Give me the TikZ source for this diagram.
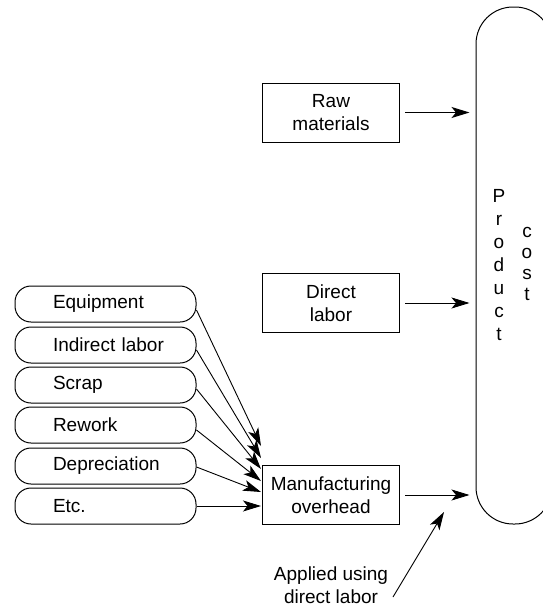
\documentclass[tikz,border=0pt]{standalone}
\usepackage{fontspec}
\setmainfont{Liberation Sans}
\usetikzlibrary{arrows.meta}
\begin{document}
\begin{tikzpicture}[x=1pt,y=-1pt,
  every node/.style={font=\fontsize{19}{22.5}\selectfont},
  box/.style={draw,line width=1pt,minimum width=137pt,minimum height=59pt,align=center,inner sep=0pt},
  pill/.style={draw,line width=1pt,rounded corners=16pt,minimum height=36pt,text width=105pt,inner xsep=38pt,inner ysep=0pt,align=left},
  flow/.style={line width=0.9pt,-{Stealth[length=18pt,width=11pt,inset=4.5pt]}},
]
\useasboundingbox (0,0) rectangle (543,608);

% cost components
\node[box] (raw) at (331,112.5) {Raw\\materials};
\node[box] (dl)  at (331,303)   {Direct\\labor};
\node[box] (moh) at (331,495)   {Manufacturing\\overhead};

% product cost capsule (its right side runs past the page edge)
\node[draw,line width=1pt,rounded corners=37pt,minimum width=76pt,minimum height=517pt,inner sep=0pt] (cap) at (514,265.5) {};
\node[font=\fontsize{19}{23}\selectfont,align=center,inner sep=0pt] (prod) at (499,265.5) {P\\r\\o\\d\\u\\c\\t};
\node[font=\fontsize{19}{21}\selectfont,align=center,inner sep=0pt] (cost) at (527,263.5) {c\\o\\s\\t};

% overhead items
\node[pill] (p1) at (105.5,304) {Equipment};
\node[pill] (p2) at (105.5,345) {\mbox{Indirect labor}};
\node[pill] (p3) at (105.5,385) {Scrap};
\node[pill] (p4) at (105.5,425) {Rework};
\node[pill] (p5) at (105.5,466) {Depreciation};
\node[pill] (p6) at (105.5,506) {Etc.};

% arrow ends at the overhead box
\coordinate (t1) at (261,446);
\coordinate (t2) at (261,458);
\coordinate (t3) at (261,469);
\coordinate (t4) at (261,481);
\coordinate (t5) at (261,492);
\coordinate (t6) at (261,506);

\draw[flow] ([yshift=-6pt]p1.east) -- (t1);
\draw[flow] ([yshift=-5pt]p2.east) -- (t2);
\draw[flow] ([yshift=-4pt]p3.east) -- (t3);
\draw[flow] ([yshift=-5pt]p4.east) -- (t4);
\draw[flow] ([yshift=-1pt]p5.east) -- (t5);
\draw[flow] (p6.east) -- (t6);

% flows into product cost
\draw[flow,shorten <=5pt,shorten >=6pt] (raw.east) -- (raw.east -| cap.west);
\draw[flow,shorten <=5pt,shorten >=6pt] (dl.east) -- (dl.east -| cap.west);
\draw[flow,shorten <=5pt,shorten >=6pt] (moh.east) -- (moh.east -| cap.west);

% note on overhead application
\node[align=center,inner sep=0pt] (app) at (331,585) {Applied using\\direct labor};
\coordinate (a1) at (393,597);
\coordinate (a2) at (444,512);
\draw[flow] (a1) -- (a2);
\end{tikzpicture}
\end{document}
